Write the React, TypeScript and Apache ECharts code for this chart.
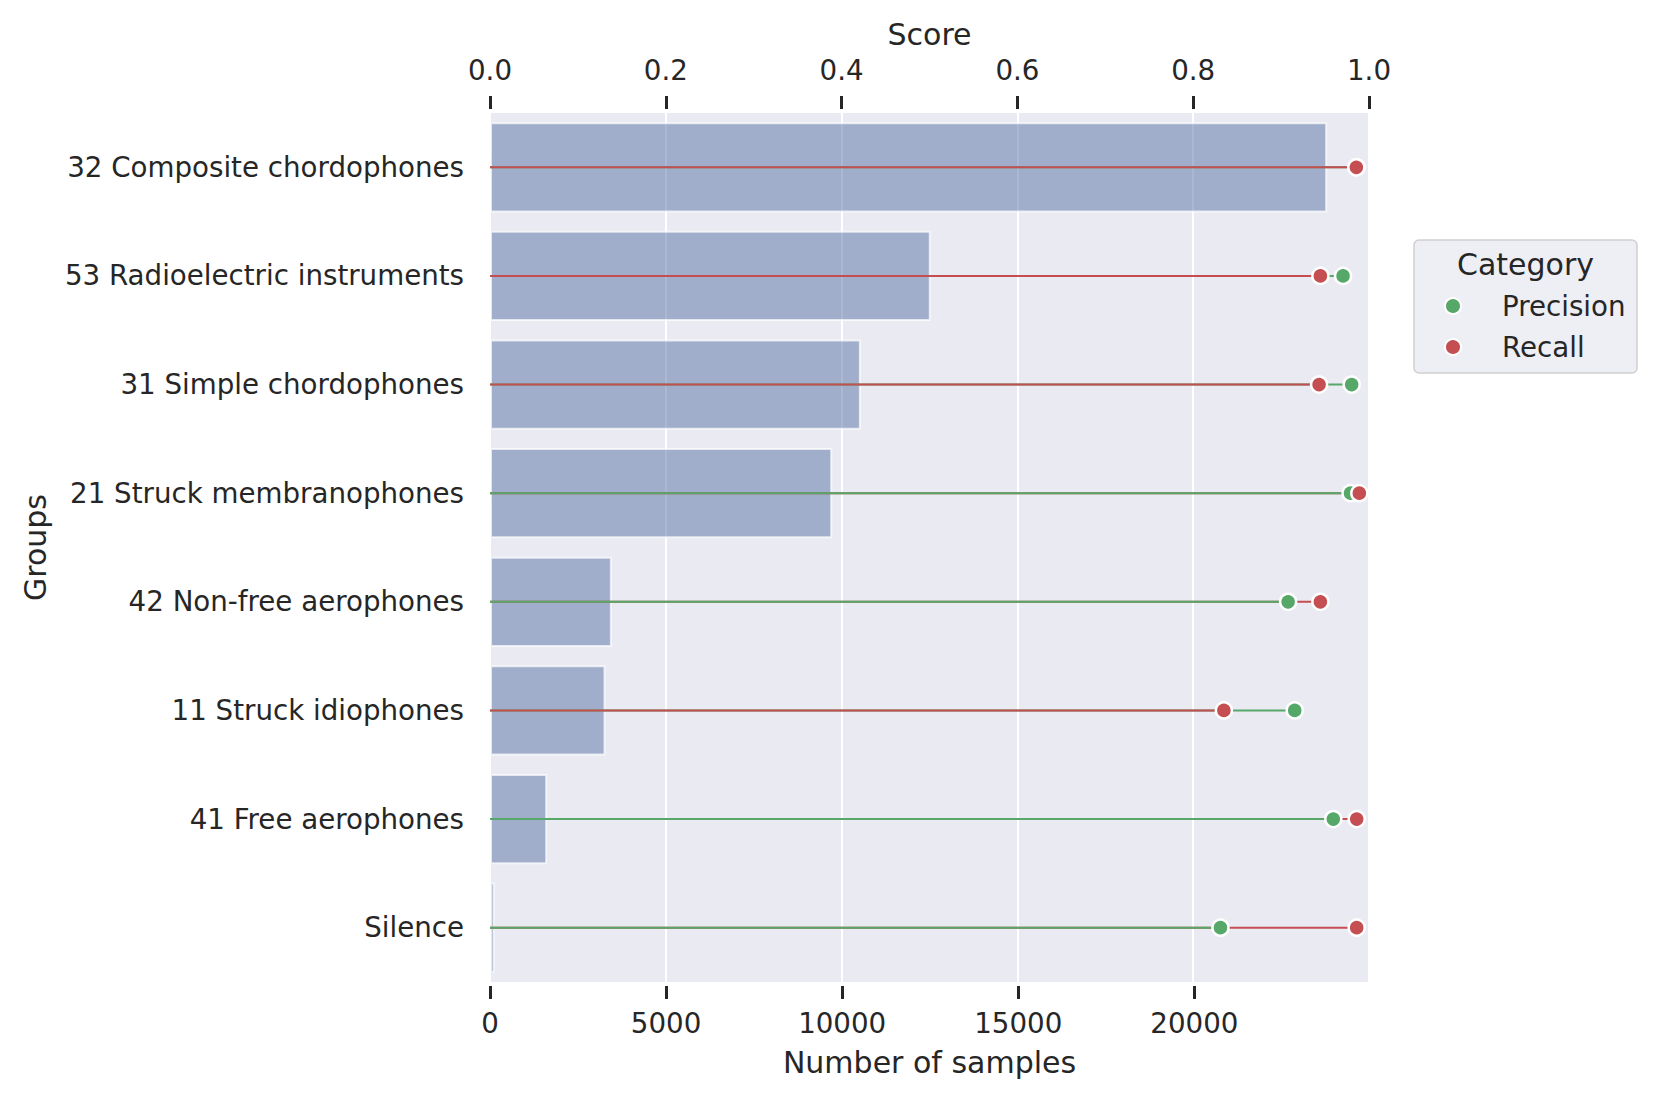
import React, { useEffect, useRef } from "react";
import * as echarts from "echarts";

const categories = [
  "32 Composite chordophones",
  "53 Radioelectric instruments",
  "31 Simple chordophones",
  "21 Struck membranophones",
  "42 Non-free aerophones",
  "11 Struck idiophones",
  "41 Free aerophones",
  "Silence",
];
const sampleCounts = [23770, 12515, 10530, 9717, 3460, 3279, 1624, 130];
const precision = [0.9858, 0.9705, 0.9803, 0.979, 0.908, 0.9155, 0.9594, 0.831];
const recall = [0.9856, 0.9447, 0.9432, 0.989, 0.9447, 0.8349, 0.986, 0.986];
const sampleTicks = [0, 5000, 10000, 15000, 20000];
const legendNames = ["Precision", "Recall"];

const GREEN = "#55a868";
const RED = "#c44e52";
const TEXT = "#262626";
const FONT = "DejaVu Sans";
const TICK_FS = 27.7;

export default function App() {
  const ref = useRef<HTMLDivElement>(null);
  useEffect(() => {
    if (!ref.current) return;
    const chart = echarts.init(ref.current, undefined, { renderer: "svg" });
    const maxSamples = Math.max(...sampleCounts) * 1.05;
    const tickStyle = { show: true, length: 13, lineStyle: { color: TEXT, width: 3 } };
    chart.setOption({
      animation: false,
      textStyle: { fontFamily: FONT, color: TEXT },
      grid: {
        left: 490,
        top: 113,
        width: 879,
        height: 869,
        show: true,
        backgroundColor: "#eaeaf2",
        borderWidth: 0,
      },
      legend: {
        data: legendNames,
        orient: "vertical",
        left: 1439,
        top: 287,
        itemWidth: 16,
        itemHeight: 16,
        itemGap: 13,
        icon: "circle",
        z: 10,
        textStyle: { fontSize: TICK_FS, color: TEXT, fontFamily: FONT, padding: [0, 0, 0, 36], lineHeight: 28 },
      },
      graphic: [
        {
          type: "rect",
          z: 1,
          shape: { x: 1414, y: 240, width: 223, height: 133, r: 5 },
          style: { fill: "rgba(234,234,242,0.8)", stroke: "#d0d0d0", lineWidth: 1.5 },
        },
        {
          type: "text",
          z: 2,
          x: 1525.5,
          y: 264,
          style: {
            text: "Category",
            fontSize: 30,
            fontFamily: FONT,
            fill: TEXT,
            align: "center",
            verticalAlign: "middle",
          },
        },
      ],
      xAxis: [
        {
          type: "value",
          position: "bottom",
          min: 0,
          max: maxSamples,
          offset: 4,
          axisLine: { show: false },
          axisTick: { ...tickStyle, customValues: sampleTicks },
          axisLabel: {
            fontSize: TICK_FS,
            color: TEXT,
            fontFamily: FONT,
            margin: 23,
            customValues: sampleTicks,
            formatter: (v: number) => String(v),
          },
          splitLine: { show: false },
          name: "Number of samples",
          nameLocation: "middle",
          nameGap: 61,
          nameTextStyle: { fontSize: 30, color: TEXT, fontFamily: FONT },
        },
        {
          type: "value",
          position: "top",
          min: 0,
          max: 1,
          interval: 0.2,
          offset: 4,
          axisLine: { show: false },
          axisTick: tickStyle,
          axisLabel: {
            fontSize: TICK_FS,
            color: TEXT,
            fontFamily: FONT,
            margin: 25,
            formatter: (v: number) => v.toFixed(1),
          },
          splitLine: { show: true, lineStyle: { color: "#ffffff", width: 2 } },
          name: "Score",
          nameLocation: "middle",
          nameGap: 60,
          nameTextStyle: { fontSize: 30, color: TEXT, fontFamily: FONT },
        },
      ],
      yAxis: {
        type: "category",
        data: categories,
        inverse: true,
        axisLine: { show: false },
        axisTick: { show: false },
        splitLine: { show: false },
        axisLabel: { fontSize: TICK_FS, color: TEXT, fontFamily: FONT, margin: 26 },
        name: "Groups",
        nameLocation: "middle",
        nameRotate: 90,
        nameGap: 440,
        nameTextStyle: { fontSize: 30, color: TEXT, fontFamily: FONT },
      },
      series: [
        {
          type: "bar",
          name: "Number of samples",
          xAxisIndex: 0,
          yAxisIndex: 0,
          barWidth: "83%",
          data: sampleCounts,
          itemStyle: {
            color: "rgba(86,114,164,0.5)",
            borderColor: "rgba(255,255,255,0.7)",
            borderWidth: 2,
          },
          z: 2,
        },
        {
          type: "custom",
          name: "lines",
          xAxisIndex: 1,
          yAxisIndex: 0,
          encode: { x: [1, 2], y: 0 },
          data: categories.map((c, i) => [i, precision[i], recall[i]]),
          z: 3,
          renderItem: (params: any, api: any) => {
            const row = api.value(0);
            const p = api.value(1);
            const r = api.value(2);
            const s = api.coord([0, row]);
            const pe = api.coord([p, row]);
            const re = api.coord([r, row]);
            const segs: [number[], string][] =
              p >= r ? [[pe, GREEN], [re, RED]] : [[re, RED], [pe, GREEN]];
            return {
              type: "group",
              children: segs.map(([e, c]) => ({
                type: "line",
                shape: { x1: s[0], y1: s[1], x2: e[0], y2: e[1] },
                style: { stroke: c, lineWidth: 2 },
              })),
            };
          },
        },
        {
          type: "scatter",
          name: "Precision",
          xAxisIndex: 1,
          yAxisIndex: 0,
          symbol: "circle",
          symbolSize: 16,
          data: precision.map((v, i) => [v, i]),
          itemStyle: { color: GREEN, borderColor: "#ffffff", borderWidth: 2.5, opacity: 1 },
          z: 4,
        },
        {
          type: "scatter",
          name: "Recall",
          xAxisIndex: 1,
          yAxisIndex: 0,
          symbol: "circle",
          symbolSize: 16,
          data: recall.map((v, i) => [v, i]),
          itemStyle: { color: RED, borderColor: "#ffffff", borderWidth: 2.5, opacity: 1 },
          z: 5,
        },
      ],
    });
    return () => chart.dispose();
  }, []);
  return (
    <div
      ref={ref}
      style={{ position: "absolute", left: 0, top: 0, width: 1660, height: 1102, background: "#fff" }}
    />
  );
}
